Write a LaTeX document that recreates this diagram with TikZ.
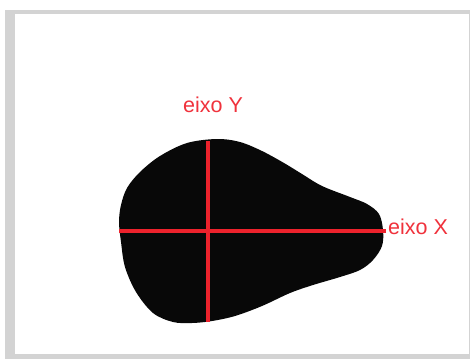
\documentclass[tikz,border=0pt]{standalone}
\usepackage{fontspec}
\setmainfont{Liberation Sans}
\definecolor{framegray}{RGB}{211,211,211}
\definecolor{axisred}{RGB}{236,34,44}
\definecolor{labelred}{RGB}{240,50,60}
\definecolor{blobblack}{RGB}{8,8,8}
\begin{document}
\begin{tikzpicture}[x=1pt,y=-1pt,
  axis/.style={draw=axisred,line width=3.5pt},
  axlabel/.style={text=labelred,font=\fontsize{21.5}{24}\selectfont,inner sep=0pt}]
\useasboundingbox (0,0) rectangle (470,359);
\fill[white] (0,0) rectangle (470,359);
\fill[framegray] (5,10) rectangle (470,359);
\fill[white] (15,14) rectangle (469,354);
% blob
\fill[blobblack] plot[smooth cycle,tension=0.55] coordinates {
 (217,139) (187,143) (160,156) (140,172) (127,188) (121,205) (119,222)
 (121,242) (125,267) (136,292) (153,313) (173,322) (192,323) (212,321)
 (235,316) (262,306) (290,293) (313,285) (340,277) (360,270) (373,260)
 (382,246) (383,230) (379,214) (367,204) (350,197) (322,186) (302,174)
 (284,163) (262,151) (240,142)};
% axes
\coordinate (yt) at (208,141);
\coordinate (yb) at (208,322);
\coordinate (xl) at (119,231);
\coordinate (xr) at (386,231);
\draw[axis] (xl) -- (xr);
\draw[axis] (yt) -- (yb);
\node[axlabel,anchor=base west] (lx) at (388,234) {eixo X};
\node[axlabel,anchor=base west] (ly) at (183,112) {eixo Y};
\end{tikzpicture}
\end{document}
